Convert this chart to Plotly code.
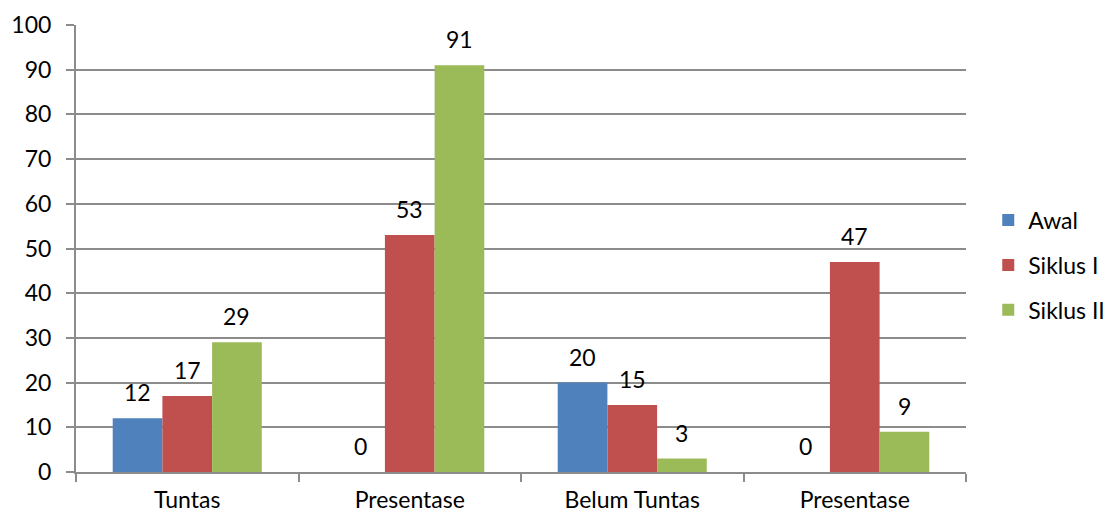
import plotly.graph_objects as go

categories = ["Tuntas", "Presentase", "Belum Tuntas", "Presentase"]
awal = [12, 0, 20, 0]
siklus1 = [17, 53, 15, 47]
siklus2 = [29, 91, 3, 9]
series_names = ["Awal", "Siklus I", "Siklus II"]
colors = ["#4f81bd", "#c0504d", "#9bbb59"]
y_ticks = list(range(0, 101, 10))

FONT = "Lato, Carlito, Calibri, sans-serif"
FS = 23
x = list(range(len(categories)))
all_series = [awal, siklus1, siklus2]
n = len(all_series)
group_width = 0.67
bar_w = group_width / n

fig = go.Figure()
for i, (name, vals, col) in enumerate(zip(series_names, all_series, colors)):
    off = -group_width / 2 + i * bar_w
    fig.add_trace(go.Bar(
        x=x, y=vals, name=name, marker=dict(color=col, line=dict(width=0)),
        width=bar_w, offset=off, legendgroup=name,
    ))
    for xi, v in zip(x, vals):
        fig.add_annotation(
            x=xi + off + bar_w / 2, y=v, text=str(v), showarrow=False,
            xanchor="center", yanchor="bottom", yshift=10,
            font=dict(family=FONT, size=FS, color="black"),
        )

fig.update_layout(
    width=1110, height=517,
    margin=dict(l=76, r=144, t=25, b=45, autoexpand=False),
    plot_bgcolor="white", paper_bgcolor="white",
    barmode="overlay",
    font=dict(family=FONT, size=FS, color="black"),
    legend=dict(x=1.025, y=0.463, xanchor="left", yanchor="middle",
                font=dict(size=FS), traceorder="grouped", tracegroupgap=12,
                itemwidth=30),
)
fig.update_xaxes(
    range=[-0.5, 3.5], tickmode="array", tickvals=x, ticktext=categories,
    ticks="", showgrid=False, showline=True, linecolor="#8c8c8c", linewidth=2,
    minor=dict(ticks="outside", tickmode="linear", tick0=-0.5, dtick=1,
               ticklen=8, tickcolor="#8c8c8c", tickwidth=2, showgrid=False),
    tickfont=dict(size=FS), ticklabelstandoff=6,
)
fig.update_yaxes(
    range=[0, 100], tickvals=y_ticks, showgrid=True, gridcolor="#8c8c8c",
    gridwidth=2, showline=True, linecolor="#8c8c8c", linewidth=2,
    ticks="outside", ticklen=8, tickcolor="#8c8c8c", tickwidth=2,
    tickfont=dict(size=FS), ticklabelstandoff=10, zeroline=False,
)
fig.write_html("out.html")
